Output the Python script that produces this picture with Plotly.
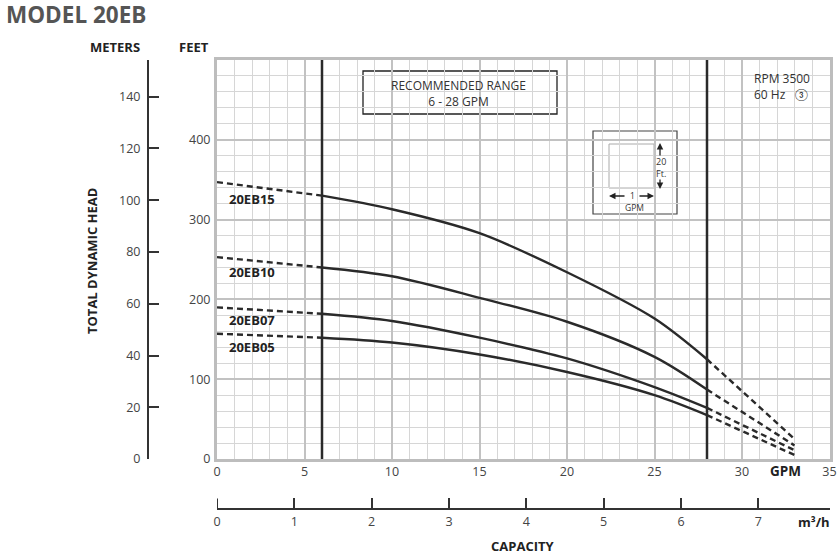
import plotly.graph_objects as go

W, H = 840, 557

# ---------------- data ----------------
gpm = [0, 6, 10, 15, 20, 25, 28, 33]
eb15 = [347, 330, 313, 283, 234, 176, 125, 25]
eb10 = [253, 240, 229, 202, 172, 128, 87, 17]
eb07 = [190, 182, 173, 152, 126, 90, 64, 11]
eb05 = [157, 152, 146, 131, 109, 80, 55, 5]
series_names = ["20EB15", "20EB10", "20EB07", "20EB05"]
label_y_ft = [326, 234, 174, 140]

gpm_ticks = [0, 5, 10, 15, 20, 25, 30, 35]
ft_ticks = [0, 100, 200, 300, 400]
m_ticks = [0, 20, 40, 60, 80, 100, 120, 140]
m3h_ticks = [0, 1, 2, 3, 4, 5, 6, 7]
rec_range = [6, 28]

GPM_MAX = 35
FT_MAX = 500
M_MAX = 154.2
M3H_MAX = 7.92

FONT = "Open Sans, Lato, sans-serif"
DARK = "#2a2a2a"


def px(x):
    return x / W


def py(y):
    return 1 - y / H


fig = go.Figure()

for name, vals in zip(series_names, [eb15, eb10, eb07, eb05]):
    # solid recommended portion
    fig.add_trace(go.Scatter(x=gpm[1:-1], y=vals[1:-1], mode="lines",
                             line=dict(color=DARK, width=2.4, shape="spline", smoothing=0.9),
                             showlegend=False, hoverinfo="skip"))
    # dashed extensions
    fig.add_trace(go.Scatter(x=gpm[:2], y=vals[:2], mode="lines",
                             line=dict(color=DARK, width=2.4, dash="6px,4px"),
                             showlegend=False, hoverinfo="skip"))
    fig.add_trace(go.Scatter(x=gpm[-2:], y=vals[-2:], mode="lines",
                             line=dict(color=DARK, width=2.4, dash="6px,4px"),
                             showlegend=False, hoverinfo="skip"))

# dummy trace so the secondary axes are drawn
fig.add_trace(go.Scatter(x=[0], y=[0], xaxis="x2", yaxis="y2", mode="markers",
                         marker=dict(opacity=0), showlegend=False, hoverinfo="skip"))

X0, X1, YT, YB = 217, 829.5, 60, 459
M3H_AXIS_Y = 508.5

fig.update_layout(
    width=W, height=H, margin=dict(l=0, r=0, t=0, b=0, autoexpand=False),
    paper_bgcolor="white", plot_bgcolor="white",
    font=dict(family=FONT, color="#444", size=12),
    xaxis=dict(domain=[px(X0), px(X1)], range=[0, GPM_MAX], tickvals=gpm_ticks,
               automargin=False,
               showgrid=True, gridcolor="#c2c2c2", gridwidth=2,
               minor=dict(dtick=1, tick0=0, showgrid=True, gridcolor="#d6d6d6", gridwidth=1.2),
               showline=True, linecolor="#bdbdbd", linewidth=3, mirror=True,
               zeroline=False, ticks="", ticklabelstandoff=-1,
               tickfont=dict(size=12.5, color="#444")),
    yaxis=dict(domain=[py(YB), py(YT)], range=[0, FT_MAX], tickvals=ft_ticks,
               automargin=False,
               showgrid=True, gridcolor="#c2c2c2", gridwidth=2,
               minor=dict(dtick=20, tick0=0, showgrid=True, gridcolor="#d6d6d6", gridwidth=1.2),
               showline=True, linecolor="#bdbdbd", linewidth=3, mirror=True,
               zeroline=False, ticks="", ticklabelstandoff=1,
               tickfont=dict(size=12.5, color="#444")),
    yaxis2=dict(overlaying="y", anchor="free", position=px(148), side="left",
                automargin=False,
                range=[0, M_MAX], tickvals=m_ticks,
                ticks="inside", ticklen=10, tickwidth=2, tickcolor="#333",
                showline=True, linecolor="#333", linewidth=2,
                showgrid=False, zeroline=False, ticklabelstandoff=4,
                tickfont=dict(size=12.5, color="#444")),
    xaxis2=dict(overlaying="x", anchor="free", position=py(M3H_AXIS_Y), side="bottom",
                automargin=False,
                range=[0, M3H_MAX], tickvals=m3h_ticks,
                ticks="inside", ticklen=10, tickwidth=2, tickcolor="#333",
                showline=True, linecolor="#333", linewidth=2,
                showgrid=False, zeroline=False, ticklabelstandoff=1,
                tickfont=dict(size=12.5, color="#444")),
)

shapes = []
for v in rec_range:
    shapes.append(dict(type="line", xref="x", yref="y", x0=v, x1=v, y0=0, y1=FT_MAX,
                       line=dict(color=DARK, width=2.5), layer="above"))
# first m3/h tick at the axis start (plotly hides the tick at the range edge)
shapes.append(dict(type="line", xref="x2", yref="paper", x0=m3h_ticks[0], x1=m3h_ticks[0],
                   y0=py(M3H_AXIS_Y), y1=py(M3H_AXIS_Y - 10),
                   line=dict(color="#333", width=2), layer="above"))
# recommended range box
shapes.append(dict(type="rect", xref="paper", yref="paper",
                   x0=px(363), x1=px(557), y0=py(114), y1=py(71),
                   fillcolor="white", line=dict(color="#222", width=1.3), layer="between"))
# rpm box (white patch)
shapes.append(dict(type="rect", xref="paper", yref="paper",
                   x0=px(743), x1=px(828), y0=py(108), y1=py(61.5),
                   fillcolor="white", line=dict(width=0), layer="between"))
# scale box
shapes.append(dict(type="rect", xref="paper", yref="paper",
                   x0=px(593), x1=px(677), y0=py(214), y1=py(131),
                   fillcolor="white", line=dict(color="#444", width=1.2), layer="between"))
shapes.append(dict(type="rect", xref="paper", yref="paper",
                   x0=px(609), x1=px(654), y0=py(188), y1=py(144),
                   fillcolor="rgba(0,0,0,0)", line=dict(color="#aaa", width=1), layer="between"))
fig.update_layout(shapes=shapes)

ann = []


def text(x, y, s, size=12, color="#222", xanchor="center", yanchor="middle", **kw):
    ann.append(dict(x=px(x), y=py(y), xref="paper", yref="paper", text=s, showarrow=False,
                    font=dict(family=FONT, size=size, color=color),
                    xanchor=xanchor, yanchor=yanchor, **kw))


text(4, 15, "<b>MODEL 20EB</b>", size=22.5, color="#555", xanchor="left")
text(115, 47, "<b>METERS</b>", size=13)
text(194, 47, "<b>FEET</b>", size=13)
text(92, 261, "<b>TOTAL DYNAMIC HEAD</b>", size=13, textangle=-90)
text(523, 546, "<b>CAPACITY</b>", size=13)
text(785, 470.5, "<b>GPM</b>", size=13.5)
text(814, 521.5, "<b>m³/h</b>", size=13)
text(459, 93, "RECOMMENDED RANGE<br>6 - 28 GPM", size=12, color="#333")
text(752, 86, "RPM 3500<br>60 Hz   ③", size=12, color="#333", xanchor="left", align="left")
text(661, 167, "20<br>Ft.", size=9, color="#333")
text(632, 195, "1", size=8.5, color="#333")
text(634, 207.5, "GPM", size=8.5, color="#333")

for name, yl in zip(series_names, label_y_ft):
    ann.append(dict(x=px(227), y=yl, xref="paper", yref="y", text=f"<b>{name}</b>",
                    showarrow=False, xanchor="left", yanchor="middle",
                    font=dict(family=FONT, size=13, color="#222")))

# scale arrows
arrow = dict(xref="paper", yref="paper", showarrow=True, arrowhead=2, arrowsize=1,
             arrowwidth=1.3, arrowcolor="#222", text="")
ann.append(dict(arrow, x=px(660), y=py(143), ax=0, ay=14))
ann.append(dict(arrow, x=px(660), y=py(189), ax=0, ay=-11))
ann.append(dict(arrow, x=px(609), y=py(196), ax=17, ay=0))
ann.append(dict(arrow, x=px(654), y=py(196), ax=-16, ay=0))

fig.update_layout(annotations=ann)

fig.write_html("out.html")
